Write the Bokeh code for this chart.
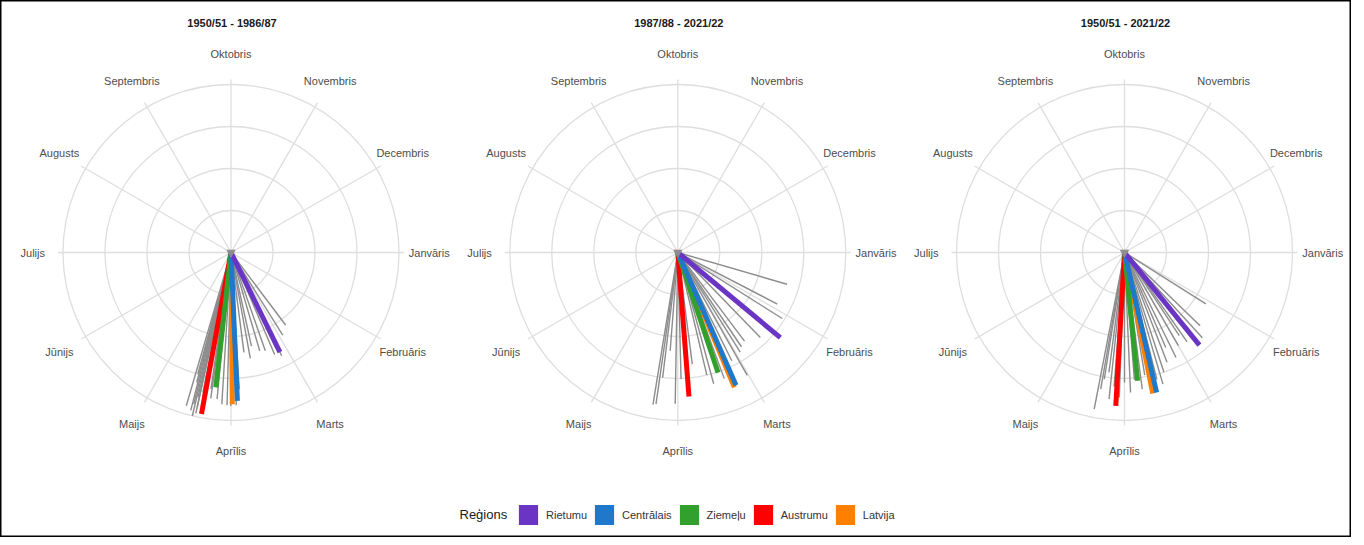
import numpy as np
from bokeh.plotting import figure
from bokeh.models import Range1d, Legend, LegendItem
from bokeh.core.properties import value
from bokeh.embed import file_html
from bokeh.resources import INLINE

# ---------------- data ----------------
months = ["Oktobris", "Novembris", "Decembris", "Janvāris", "Februāris", "Marts",
          "Aprīlis", "Maijs", "Jūnijs", "Julijs", "Augusts", "Septembris"]
titles = ["1950/51 - 1986/87", "1987/88 - 2021/22", "1950/51 - 2021/22"]
regions = ["Rietumu", "Centrālais", "Ziemeļu", "Austrumu", "Latvija"]
region_colors = ["#6a35c5", "#1f78c9", "#31a02d", "#ff0000", "#ff7f00"]
grid_levels = [0.25, 0.5, 0.75, 1.0]

# day of hydrological year (0 = 1 October) and resultant length (0..1)
p1_gray_day = [145, 150, 156, 157, 159, 163, 166, 170, 172, 175, 179, 180.5, 182.6, 184, 186,
               188, 190.5, 191, 193.7, 194, 195, 195, 195.5, 196, 196.5, 197, 197.5, 198, 199]
p1_gray_r = [.54, .58, .685, .63, .66, .62, .61, .57, .64, .60, .815, .91, .913, .91, .905,
             .877, .877, .82, .89, .85, .98, .944, .883, 1.0, .93, .97, .80, .75, .95]
p1_region_day = [156, 180, 189, 193, 182]
p1_region_r = [.661, .884, .808, .977, .903]

p2_gray_day = [107.7, 119, 124, 137.7, 145, 148, 150, 152.6, 155.6, 158, 160, 162, 164, 167,
               169, 175, 181, 183.5, 187, 189.5, 190.8, 191.9]
p2_gray_r = [.677, .667, .735, .705, .66, .677, .70, .84, .72, .74, .78, .80, .70, .81,
             .75, .67, .754, .90, .587, .75, .912, .918]
p2_region_day = [131.5, 158.5, 163.7, 178, 159.4]
p2_region_r = [.793, .863, .754, .86, .87]

p3_gray_day = [124, 136, 139.5, 143, 147, 148.7, 152, 156, 158.7, 161, 164, 166, 168, 173,
               175, 178, 180, 182.5, 184.6, 187, 188.6, 190, 191.7, 192.5, 193.6]
p3_gray_r = [.573, .627, .687, .66, .65, .593, .64, .696, .617, .70, .75, .816, .78, .74,
             .82, .76, .834, .774, .864, .80, .878, .72, .764, .826, .95]
p3_region_day = [143, 169.4, 176.6, 185.8, 171]
p3_region_r = [.709, .855, .768, .914, .856]

panels = [
    (p1_gray_day, p1_gray_r, p1_region_day, p1_region_r),
    (p2_gray_day, p2_gray_r, p2_region_day, p2_region_r),
    (p3_gray_day, p3_gray_r, p3_region_day, p3_region_r),
]

# ---------------- layout ----------------
W, H = 1351, 537
centers_x = [238.5, 685.3, 1132.0]
CY = 260.0
R = 168.0
FONT_NAME = "Liberation Sans"
FONT = value(FONT_NAME)
GRID = "#dedede"
GRAY = "#8c8c8c"

p = figure(width=W, height=H, x_range=Range1d(8, 8 + W), y_range=Range1d(8 + H, 8),
           output_backend="svg", toolbar_location=None, min_border=0,
           x_axis_location=None, y_axis_location=None)
p.grid.visible = False
p.outline_line_color = "black"
p.outline_line_width = 2
p.background_fill_color = "white"


def to_xy(cx, day, r):
    phi = np.asarray(day, dtype=float) / 365.0 * 2 * np.pi
    r = np.asarray(r, dtype=float)
    return cx + R * r * np.sin(phi), CY - R * r * np.cos(phi)


order = [4, 3, 2, 1, 0]  # draw Latvija first, Rietumu last
for k, (cx, (gd, gr, rd, rr)) in enumerate(zip(centers_x, panels)):
    # grid circles
    p.circle(x=[cx] * len(grid_levels), y=[CY] * len(grid_levels),
             radius=[R * g for g in grid_levels], fill_color=None,
             line_color=GRID, line_width=1.3)
    # spokes
    sd = np.arange(12) * 365.0 / 12
    sx, sy = to_xy(cx, sd, np.full(12, 1.03))
    p.segment(x0=[cx] * 12, y0=[CY] * 12, x1=sx, y1=sy, line_color=GRID, line_width=1.3)
    # month labels
    lx, ly = to_xy(cx, sd, np.full(12, 1.18))
    p.text(x=lx, y=ly, text=months, text_align="center", text_baseline="middle",
           text_font=FONT, text_font_size="11px", text_color="#4d4d4d")
    # title
    p.text(x=[cx + 1], y=[30], text=[titles[k]], text_align="center", text_baseline="middle",
           text_font=FONT, text_font_size="11px", text_font_style="bold", text_color="#1a1a1a")
    # gray lines
    gx, gy = to_xy(cx, gd, gr)
    p.segment(x0=[cx] * len(gd), y0=[CY] * len(gd), x1=gx, y1=gy,
              line_color=GRAY, line_width=1.4)
    # regional lines
    for i in order:
        ex, ey = to_xy(cx, [rd[i]], [rr[i]])
        p.segment(x0=[cx], y0=[CY], x1=ex, y1=ey, line_color=region_colors[i], line_width=5)
    p.scatter(x=[cx], y=[CY], marker="inverted_triangle", size=8, color=GRAY)

# legend
p.text(x=[467], y=[522], text=["Reģions"], text_align="left", text_baseline="middle",
       text_font=FONT, text_font_size="13px", text_color="#1a1a1a")
items = []
for name, col in zip(regions, region_colors):
    # legend-only renderer (NaN coordinates, nothing drawn in the plot)
    rnd = p.quad(left=[np.nan], right=[np.nan], top=[np.nan], bottom=[np.nan],
                 fill_color=col, line_color=None)
    items.append(LegendItem(label=name, renderers=[rnd]))
legend = Legend(items=items, orientation="horizontal", location=(516.1, 9.8),
                glyph_width=24, glyph_height=25, label_standoff=6, spacing=5,
                padding=0, margin=0, border_line_color=None, background_fill_alpha=0,
                label_text_font=FONT_NAME, label_text_font_size="11px",
                label_text_color="#333333", label_height=25)
p.add_layout(legend)

open("out.html", "w").write(file_html(p, INLINE))
